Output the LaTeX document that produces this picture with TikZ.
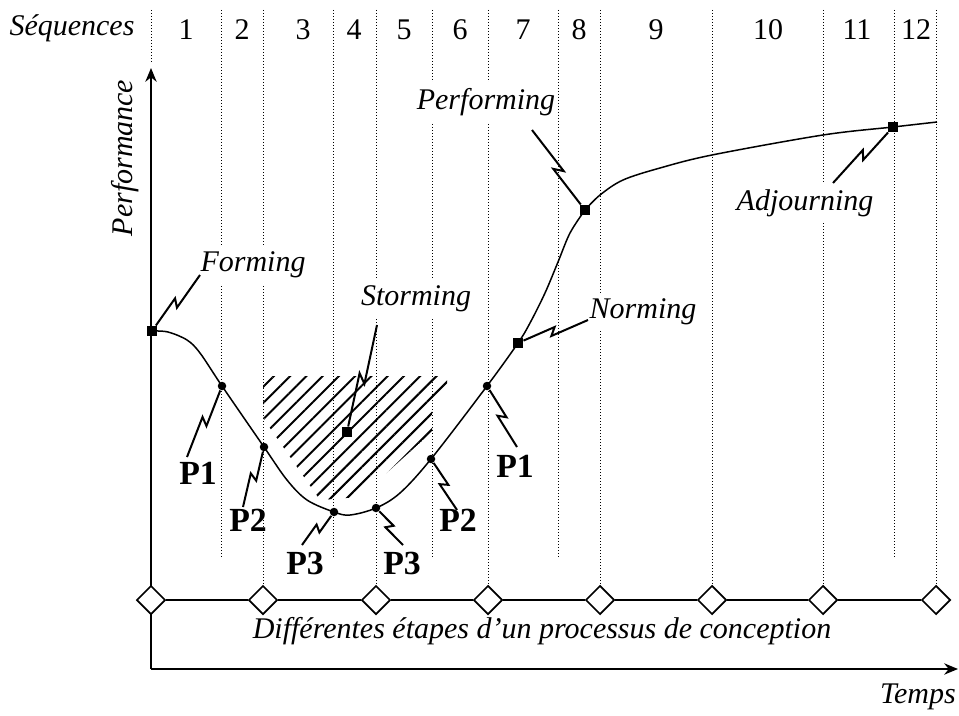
\documentclass[tikz,border=0pt]{standalone}
\usepackage{fontspec}
\setmainfont{Liberation Serif}
\usetikzlibrary{arrows.meta, positioning, shapes.geometric, calc, patterns.meta}

\begin{document}
\begin{tikzpicture}[
    x=0.4pt, y=0.4pt,
    lbl/.style={font=\fontsize{12}{14}\selectfont\itshape, inner sep=1pt},
    phase/.style={lbl, fill=white, inner xsep=1pt, inner ysep=2.5pt},
    num/.style={font=\fontsize{12}{14}\selectfont},
    plab/.style={font=\fontsize{13.5}{15}\selectfont\bfseries, inner sep=1pt},
    sq/.style={rectangle, fill=black, minimum size=4pt, inner sep=0pt},
    dot/.style={circle, fill=black, minimum size=3.4pt, inner sep=0pt},
    stage/.style={diamond, draw, fill=white, line width=0.7pt, minimum size=11.5pt, inner sep=0pt},
    seq/.style={line width=0.4pt, dash pattern=on 0.4pt off 0.8pt},
    axis/.style={line width=0.9pt, -{Stealth[length=5.5pt, width=4.5pt]}},
    curve/.style={line width=0.6pt},
    lead/.style={line width=0.8pt, to path={let \p1=($(\tikztotarget)-(\tikztostart)$), \n1={atan2(\y1,\x1)} in
        -- ($(\tikztostart)!0.54!(\tikztotarget)+(\n1+90:1.5pt)$)
        -- ($(\tikztostart)!0.46!(\tikztotarget)+(\n1-90:1.5pt)$)
        -- (\tikztotarget)}},
]
\useasboundingbox (0,0) rectangle (959,715);

% axes
\coordinate (o) at (151,46);
\coordinate (ytop) at (151,647);
\coordinate (xend) at (958,46);
\draw[axis] (o) -- (ytop);
\draw[axis] (o) -- (xend);

% stages of the design process
\node[stage] (d1) at (151,115) {};
\node[stage] (d2) at (263,115) {};
\node[stage] (d3) at (376,115) {};
\node[stage] (d4) at (488,115) {};
\node[stage] (d5) at (600,115) {};
\node[stage] (d6) at (712,115) {};
\node[stage] (d7) at (823,115) {};
\node[stage] (d8) at (936,115) {};
\draw[line width=0.6pt] (d1) -- (d2) -- (d3) -- (d4) -- (d5) -- (d6) -- (d7) -- (d8);

% sequence separators
\draw[seq] (151,705) -- (151,652);
\draw[seq] (221,705) -- (221,157);
\draw[seq] (263,705) -- (d2);
\draw[seq] (333,705) -- (333,157);
\draw[seq] (376,705) -- (d3);
\draw[seq] (432,705) -- (432,157);
\draw[seq] (488,705) -- (d4);
\draw[seq] (558,705) -- (558,157);
\draw[seq] (600,705) -- (d5);
\draw[seq] (712,705) -- (d6);
\draw[seq] (823,705) -- (d7);
\draw[seq] (894,705) -- (894,157);
\draw[seq] (936,705) -- (d8);

% storming zone
\fill[pattern={Lines[angle=45, distance=4.6pt, line width=0.8pt]}]
    (263,339) -- (447,339) -- (447,323) -- (432,309) -- (432,275) -- (423,275)
    -- (360,218) -- (320,215) -- (263,297) -- cycle;

% markers on the curve
\node[sq]  (fo)  at (152,384) {};
\node[dot] (p1l) at (222,329) {};
\node[dot] (p2l) at (264,268) {};
\node[dot] (p3l) at (334,203) {};
\node[dot] (p3r) at (376,207) {};
\node[dot] (p2r) at (431,256) {};
\node[dot] (p1r) at (487,329) {};
\node[sq]  (no)  at (518,372) {};
\node[sq]  (pf)  at (585,505) {};
\node[sq]  (ad)  at (893,588) {};
\node[sq]  (st)  at (347,283) {};

% performance curve
\draw[curve] plot[smooth, tension=0.55] coordinates {(fo.center) (168,383) (187,375) (200,362)
    (p1l.center) (p2l.center) (287,235) (307,215) (p3l.center) (350,200) (p3r.center) (400,222)
    (p2r.center) (p1r.center) (no.center) (530,392) (545,422) (558,453) (570,482) (pf.center)};
\draw[curve] plot[smooth, tension=0.55] coordinates {(pf.center) (600,520) (623,535) (660,547)
    (712,560) (823,580) (ad.center) (937,593)};

% texts
\node[lbl] (seqt) at (72,687) {Séquences};
\node[num] (s1)  at (186,685) {1};
\node[num] (s2)  at (242,685) {2};
\node[num] (s3)  at (303,685) {3};
\node[num] (s4)  at (354,685) {4};
\node[num] (s5)  at (404,685) {5};
\node[num] (s6)  at (460,685) {6};
\node[num] (s7)  at (523,685) {7};
\node[num] (s8)  at (579,685) {8};
\node[num] (s9)  at (656,685) {9};
\node[num] (s10) at (768,685) {10};
\node[num] (s11) at (857,685) {11};
\node[num] (s12) at (916,685) {12};
\node[lbl, rotate=90] (perf) at (125,557) {Performance};
\node[lbl] (temps) at (918,18) {Temps};
\node[lbl] (etapes) at (542,84) {Différentes étapes d’un processus de conception};

\node[phase] (lfo) at (253,450) {Forming};
\node[phase] (lst) at (416,416) {Storming};
\node[phase] (lno) at (643,403) {Norming};
\node[phase] (lpf) at (486,613) {Performing};
\node[phase] (lad) at (805,512) {Adjourning};

\node[plab] (lp1l) at (198,242) {P1};
\node[plab] (lp2l) at (248,195) {P2};
\node[plab] (lp3l) at (305,152) {P3};
\node[plab] (lp3r) at (402,152) {P3};
\node[plab] (lp2r) at (458,195) {P2};
\node[plab] (lp1r) at (515,249) {P1};

% leaders
\coordinate (fz)   at (200,440);
\coordinate (sz)   at (377,390);
\coordinate (nz)   at (588,395);
\coordinate (pz)   at (532,585);
\coordinate (az)   at (833,532);
\coordinate (p1lz) at (187,258);
\coordinate (p2lz) at (243,208);
\coordinate (p3lz) at (302,170);
\coordinate (p3rz) at (403,170);
\coordinate (p2rz) at (457,205);
\coordinate (p1rz) at (517,268);
\draw[lead] (fz) to (fo);
\draw[lead] (sz) to (st);
\draw[lead] (nz) to (no);
\draw[lead] (pz) to (pf);
\draw[lead] (az) to (ad);
\draw[lead] (p1lz) to (p1l);
\draw[lead] (p2lz) to (p2l);
\draw[lead] (p3lz) to (p3l);
\draw[lead] (p3rz) to (p3r);
\draw[lead] (p2rz) to (p2r);
\draw[lead] (p1rz) to (p1r);
\end{tikzpicture}
\end{document}
